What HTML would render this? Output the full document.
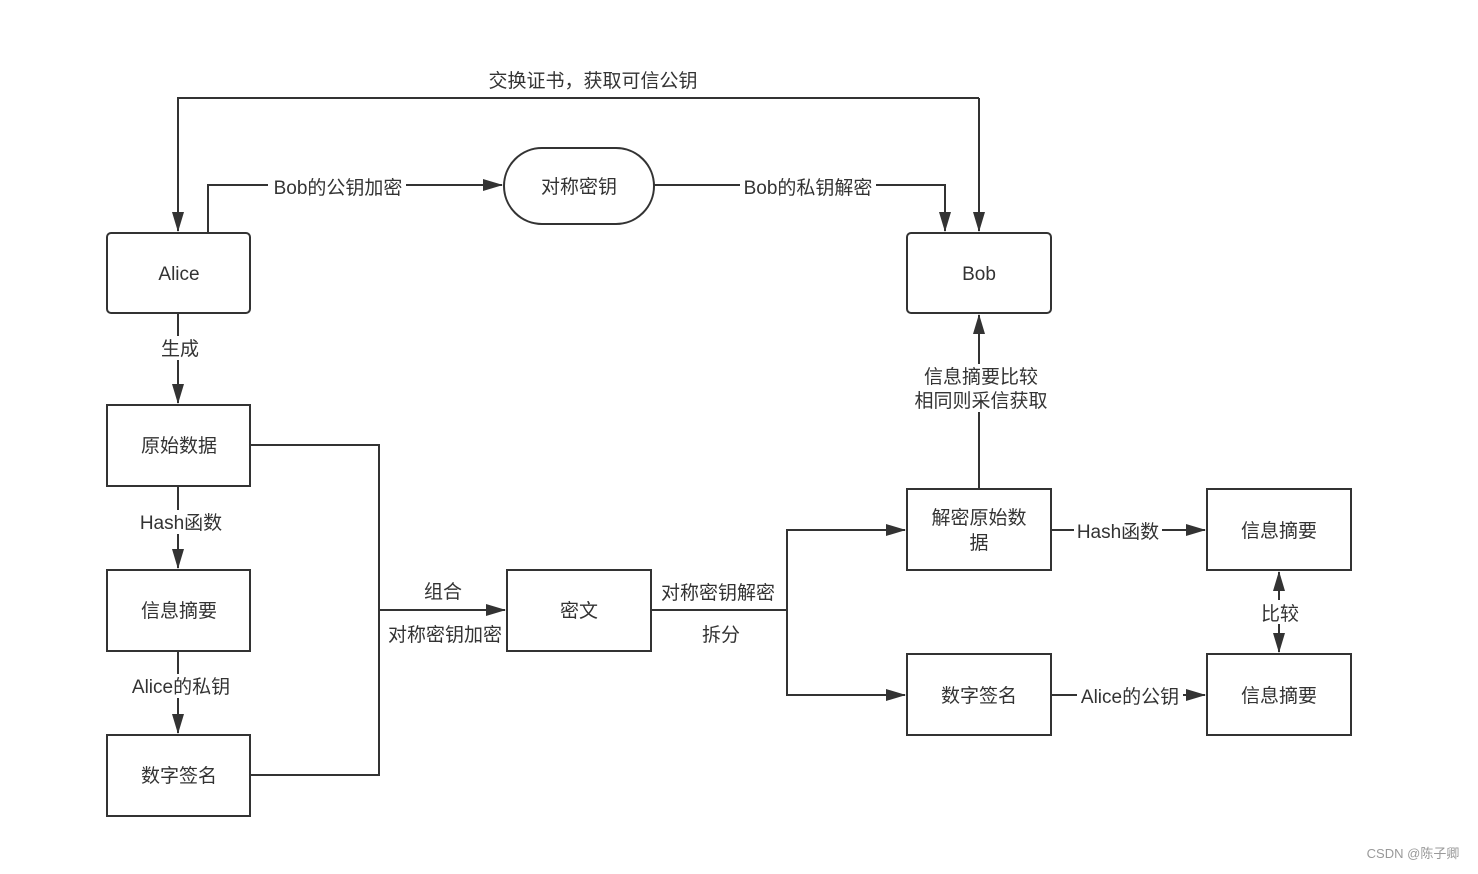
<!DOCTYPE html>
<html><head><meta charset="utf-8"><style>
html,body{margin:0;padding:0;background:#fff;}
svg text{font-family:"Liberation Sans","Noto Sans CJK SC",sans-serif;fill:#333;}
</style></head><body>
<svg width="1478" height="869" viewBox="0 0 1478 869" xmlns="http://www.w3.org/2000/svg">
<defs><marker id="a" markerWidth="10" markerHeight="10" refX="9" refY="5" orient="auto" markerUnits="userSpaceOnUse"><path d="M0,0 L10,5 L0,10 Z" fill="#333"/></marker>
<marker id="b" markerWidth="20" markerHeight="12" refX="19" refY="6" orient="auto" markerUnits="userSpaceOnUse"><path d="M0,0 L20,6 L0,12 Z" fill="#333"/></marker></defs>
<g fill="none" stroke="#333" stroke-width="2">
<rect x="107" y="233" width="143" height="80" rx="4"/>
<rect x="907" y="233" width="144" height="80" rx="4"/>
<rect x="107" y="405" width="143" height="81"/>
<rect x="107" y="570" width="143" height="81"/>
<rect x="107" y="735" width="143" height="81"/>
<rect x="507" y="570" width="144" height="81"/>
<rect x="907" y="489" width="144" height="81"/>
<rect x="1207" y="489" width="144" height="81"/>
<rect x="907" y="654" width="144" height="81"/>
<rect x="1207" y="654" width="144" height="81"/>
<rect x="504" y="148" width="150" height="76" rx="38"/>
<path d="M979,98 L178,98 L178,231" marker-end="url(#b)"/>
<path d="M979,98 L979,231" marker-end="url(#b)"/>
<path d="M208,233 L208,185 L502,185" marker-end="url(#b)"/>
<path d="M654,185 L945,185 L945,231" marker-end="url(#b)"/>
<path d="M178,313 L178,403" marker-end="url(#b)"/>
<path d="M178,486 L178,568" marker-end="url(#b)"/>
<path d="M178,651 L178,733" marker-end="url(#b)"/>
<path d="M250,445 L379,445 L379,775 L250,775"/>
<path d="M379,610 L505,610" marker-end="url(#b)"/>
<path d="M651,610 L787,610"/>
<path d="M787,695 L787,530 L905,530" marker-end="url(#b)"/>
<path d="M787,610 L787,695 L905,695" marker-end="url(#b)"/>
<path d="M979,489 L979,315" marker-end="url(#b)"/>
<path d="M1051,530 L1205,530" marker-end="url(#b)"/>
<path d="M1051,695 L1205,695" marker-end="url(#b)"/>
<path d="M1279,612 L1279,572" marker-end="url(#b)"/>
<path d="M1279,612 L1279,652" marker-end="url(#b)"/>
</g>
<g font-size="19" text-anchor="middle">
<rect x="268" y="174" width="138" height="24" fill="#fff"/>
<rect x="740" y="174" width="136" height="24" fill="#fff"/>
<rect x="150" y="336" width="58" height="24" fill="#fff"/>
<rect x="137" y="510" width="88" height="24" fill="#fff"/>
<rect x="128" y="674" width="104" height="24" fill="#fff"/>
<rect x="910" y="364" width="142" height="48" fill="#fff"/>
<rect x="1074" y="518" width="88" height="24" fill="#fff"/>
<rect x="1077" y="683" width="106" height="24" fill="#fff"/>
<rect x="1260" y="600" width="40" height="24" fill="#fff"/>
<text x="593" y="87">交换证书，获取可信公钥</text>
<text x="338" y="194">Bob的公钥加密</text>
<text x="808" y="194">Bob的私钥解密</text>
<text x="579" y="193">对称密钥</text>
<text x="179" y="280">Alice</text>
<text x="979" y="280">Bob</text>
<text x="180" y="355">生成</text>
<text x="179" y="452">原始数据</text>
<text x="181" y="529">Hash函数</text>
<text x="179" y="617">信息摘要</text>
<text x="181" y="693">Alice的私钥</text>
<text x="179" y="782">数字签名</text>
<text x="443" y="598">组合</text>
<text x="445" y="641">对称密钥加密</text>
<text x="579" y="617">密文</text>
<text x="718" y="599">对称密钥解密</text>
<text x="721" y="641">拆分</text>
<text x="981" y="383">信息摘要比较</text>
<text x="981" y="407">相同则采信获取</text>
<text x="979" y="524">解密原始数</text>
<text x="979" y="549">据</text>
<text x="1118" y="538">Hash函数</text>
<text x="1279" y="537">信息摘要</text>
<text x="1280" y="620">比较</text>
<text x="979" y="702">数字签名</text>
<text x="1130" y="703">Alice的公钥</text>
<text x="1279" y="702">信息摘要</text>
</g>
<text x="1413" y="858" font-size="13" text-anchor="middle" style="fill:#999">CSDN @陈子卿</text>
</svg>
</body></html>
